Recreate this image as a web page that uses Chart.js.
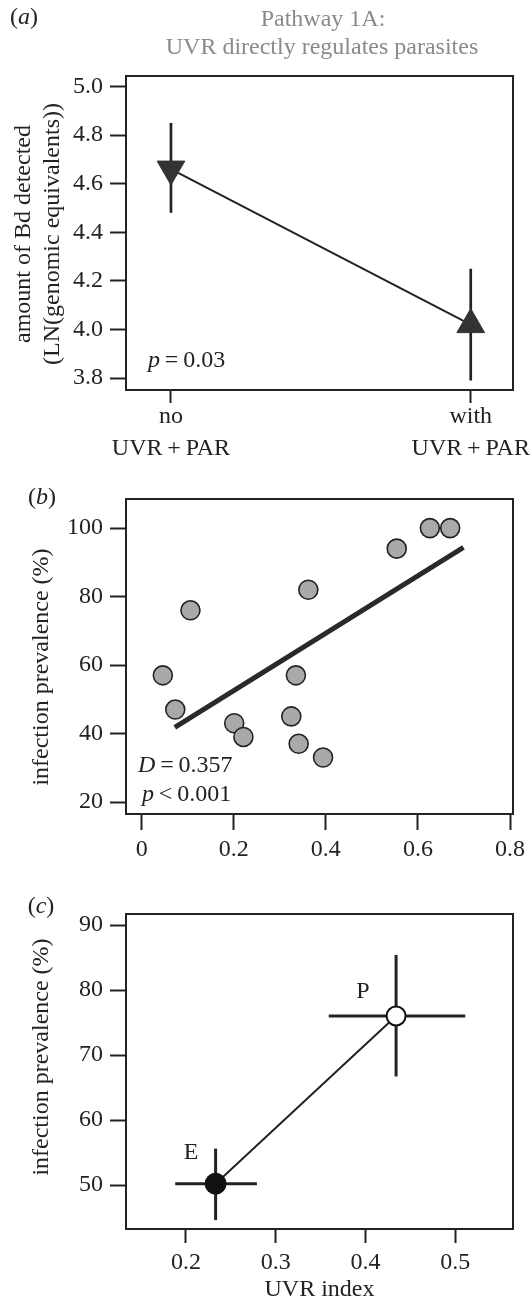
<!DOCTYPE html>
<html>
<head>
<meta charset="utf-8">
<script src="https://cdn.jsdelivr.net/npm/chart.js@4.4.1/dist/chart.umd.min.js"></script>
<style>
  html, body { margin: 0; padding: 0; background: #fff; }
  #wrap { position: relative; width: 532px; height: 1299px; overflow: hidden; }
  canvas { position: absolute; left: 0; }
</style>
</head>
<body>
<div id="wrap">
  <canvas id="panelA" width="532" height="460" style="top:0px"></canvas>
  <canvas id="panelB" width="532" height="420" style="top:460px"></canvas>
  <canvas id="panelC" width="532" height="430" style="top:880px"></canvas>
</div>
<script>
// (a) Bd load with / without UVR
const treatments = [['no', 'UVR\u2009+\u2009PAR'], ['with', 'UVR\u2009+\u2009PAR']];
const bdMean = [4.66, 4.02];
const bdLow = [4.48, 3.79];
const bdHigh = [4.85, 4.25];
const bdTicks = [3.8, 4.0, 4.2, 4.4, 4.6, 4.8, 5.0];

// (b) prevalence vs UVR index per site
const uvrSites = [0.046, 0.073, 0.106, 0.201, 0.221, 0.325, 0.335, 0.341, 0.362, 0.394, 0.554, 0.626, 0.670];
const prevSites = [57, 47, 76, 43, 39, 45, 57, 37, 82, 33, 94, 100, 100];
const fitX = [0.072, 0.699];
const fitY = [41.8, 94.4];
const uvrTicksB = [0, 0.2, 0.4, 0.6, 0.8];
const prevTicksB = [20, 40, 60, 80, 100];

// (c) group means E / P
const groups = ['E', 'P'];
const uvrGroup = [0.233, 0.434];
const uvrLow = [0.188, 0.359];
const uvrHigh = [0.279, 0.511];
const prevGroup = [50.2, 76.0];
const prevLow = [44.6, 66.7];
const prevHigh = [55.6, 85.4];
const uvrTicksC = [0.2, 0.3, 0.4, 0.5];
const prevTicksC = [50, 60, 70, 80, 90];

const SERIF = "'Liberation Serif', 'DejaVu Serif', serif";
const INK = '#222';
Chart.defaults.font.family = SERIF;
Chart.defaults.font.size = 24;
Chart.defaults.color = INK;

function axis(min, max, ticks, o) {
  return {
    type: 'linear', min: min, max: max,
    afterBuildTicks: s => { s.ticks = ticks.map(v => ({value: v})); },
    grid: { drawOnChartArea: false, drawTicks: true, tickLength: o.tickLength, tickWidth: 2, tickColor: INK },
    border: { display: false },
    ticks: {
      padding: o.padding, color: INK, autoSkip: false, maxRotation: 0,
      font: { size: 24, lineHeight: o.lineHeight || 1.2 },
      callback: o.callback || (v => v)
    },
    title: o.title || { display: false },
    afterFit: s => {
      if (o.width) s.width = o.width;
      if (o.height) s.height = o.height;
    }
  };
}

// box round the plot region
const frame = {
  id: 'frame',
  afterDatasetsDraw(chart) {
    const a = chart.chartArea, ctx = chart.ctx;
    ctx.save();
    ctx.strokeStyle = INK;
    ctx.lineWidth = 2;
    ctx.strokeRect(a.left, a.top, a.right - a.left, a.bottom - a.top);
    ctx.restore();
  }
};

const errorBars = {
  id: 'errorBars',
  beforeDatasetsDraw(chart, args, o) {
    if (!o.bars) return;
    const ctx = chart.ctx, x = chart.scales.x, y = chart.scales.y;
    ctx.save();
    ctx.strokeStyle = INK;
    ctx.lineWidth = o.width;
    o.bars.forEach(b => {
      ctx.beginPath();
      if (b.y0 !== undefined) {
        const px = x.getPixelForValue(b.x);
        ctx.moveTo(px, y.getPixelForValue(b.y0));
        ctx.lineTo(px, y.getPixelForValue(b.y1));
      }
      if (b.x0 !== undefined) {
        const py = y.getPixelForValue(b.y);
        ctx.moveTo(x.getPixelForValue(b.x0), py);
        ctx.lineTo(x.getPixelForValue(b.x1), py);
      }
      ctx.stroke();
    });
    ctx.restore();
  }
};

// labels with italic pieces
const panelText = {
  id: 'panelText',
  afterDraw(chart, args, o) {
    const ctx = chart.ctx;
    (o.items || []).forEach(it => {
      const font = p => (p.i ? 'italic ' : '') + '24px ' + SERIF;
      ctx.save();
      ctx.translate(it.x, it.y);
      if (it.rotate) ctx.rotate(-Math.PI / 2);
      ctx.fillStyle = it.color || INK;
      ctx.textBaseline = 'middle';
      ctx.textAlign = 'left';
      let w = 0;
      it.parts.forEach(p => { ctx.font = font(p); w += ctx.measureText(p.t).width; });
      let cx = it.left ? 0 : -w / 2;
      it.parts.forEach(p => {
        ctx.font = font(p);
        ctx.fillText(p.t, cx, 0);
        cx += ctx.measureText(p.t).width;
      });
      ctx.restore();
    });
  }
};

const base = {
  responsive: false, animation: false, events: [],
  plugins: { legend: { display: false }, tooltip: { enabled: false } }
};

// ---- (a)
new Chart(document.getElementById('panelA'), {
  type: 'scatter',
  data: {
    datasets: [{
      data: bdMean.map((v, i) => ({x: i, y: v})),
      showLine: true, borderColor: INK, borderWidth: 2,
      pointStyle: 'triangle', pointRotation: [180, 0], pointRadius: 16,
      pointBackgroundColor: '#333', pointBorderColor: '#333', pointBorderWidth: 1
    }]
  },
  options: Object.assign({}, base, {
    layout: { padding: { top: 76, right: 19, bottom: 0, left: 0 } },
    scales: {
      x: axis(-0.15, 1.141, [0, 1], { tickLength: 13, padding: -1.5, lineHeight: 1.3, height: 70,
        callback: (v, i) => treatments[i] }),
      y: axis(3.751, 5.043, bdTicks, { tickLength: 16, padding: 7, width: 126,
        callback: v => v.toFixed(1) })
    },
    plugins: Object.assign({}, base.plugins, {
      errorBars: { width: 2.7, bars: bdMean.map((v, i) => ({x: i, y0: bdLow[i], y1: bdHigh[i]})) },
      panelText: { items: [
        { x: 24, y: 18, parts: [{t: '('}, {t: 'a', i: true}, {t: ')'}] },
        { x: 323, y: 20, color: '#8a8a8a', parts: [{t: 'Pathway 1A:'}] },
        { x: 322, y: 48, color: '#8a8a8a', parts: [{t: 'UVR directly regulates parasites'}] },
        { x: 24, y: 234, rotate: true, parts: [{t: 'amount of Bd detected'}] },
        { x: 53, y: 234, rotate: true, parts: [{t: '(LN(genomic equivalents))'}] },
        { x: 148, y: 361, left: true, parts: [{t: 'p', i: true}, {t: '\u2009=\u20090.03'}] }
      ] }
    })
  }),
  plugins: [frame, errorBars, panelText]
});

// ---- (b)
new Chart(document.getElementById('panelB'), {
  type: 'scatter',
  data: {
    datasets: [{
      data: uvrSites.map((v, i) => ({x: v, y: prevSites[i]})),
      pointRadius: 9.5, pointBackgroundColor: '#a9a9a9', pointBorderColor: INK, pointBorderWidth: 1.6
    }, {
      data: fitX.map((v, i) => ({x: v, y: fitY[i]})),
      showLine: true, borderColor: '#2a2a2a', borderWidth: 5, pointRadius: 0, borderCapStyle: 'butt'
    }]
  },
  options: Object.assign({}, base, {
    layout: { padding: { top: 39, right: 19, bottom: 0, left: 0 } },
    scales: {
      x: axis(-0.034, 0.8065, uvrTicksB, { tickLength: 16, padding: 5, height: 66,
        callback: v => v === 0 ? '0' : v.toFixed(1) }),
      y: axis(16.5, 108.5, prevTicksB, { tickLength: 16, padding: 7, width: 126 })
    },
    plugins: Object.assign({}, base.plugins, {
      panelText: { items: [
        { x: 42, y: 38, parts: [{t: '('}, {t: 'b', i: true}, {t: ')'}] },
        { x: 42, y: 207, rotate: true, parts: [{t: 'infection prevalence (%)'}] },
        { x: 138, y: 306, left: true, parts: [{t: 'D', i: true}, {t: '\u2009=\u20090.357'}] },
        { x: 142, y: 335, left: true, parts: [{t: 'p', i: true}, {t: '\u2009<\u20090.001'}] }
      ] }
    })
  }),
  plugins: [frame, panelText]
});

// ---- (c)
new Chart(document.getElementById('panelC'), {
  type: 'scatter',
  data: {
    datasets: [{
      data: uvrGroup.map((v, i) => ({x: v, y: prevGroup[i]})),
      showLine: true, borderColor: INK, borderWidth: 2,
      pointRadius: [10.5, 9.5], pointBackgroundColor: ['#111', '#fff'],
      pointBorderColor: '#111', pointBorderWidth: [1, 2]
    }]
  },
  options: Object.assign({}, base, {
    layout: { padding: { top: 34, right: 19, bottom: 0, left: 0 } },
    scales: {
      x: axis(0.1332, 0.5642, uvrTicksC, { tickLength: 14, padding: 5, height: 81,
        callback: v => v.toFixed(1),
        title: { display: true, text: 'UVR index', color: INK, font: { size: 24, lineHeight: 1.2 }, padding: { top: 0, bottom: 5.6 } } }),
      y: axis(43.23, 91.7, prevTicksC, { tickLength: 16, padding: 7, width: 126 })
    },
    plugins: Object.assign({}, base.plugins, {
      errorBars: { width: 3, bars: groups.flatMap((g, i) => [
        {x: uvrGroup[i], y0: prevLow[i], y1: prevHigh[i]},
        {y: prevGroup[i], x0: uvrLow[i], x1: uvrHigh[i]}
      ]) },
      panelText: { items: [
        { x: 41, y: 27, parts: [{t: '('}, {t: 'c', i: true}, {t: ')'}] },
        { x: 42, y: 177, rotate: true, parts: [{t: 'infection prevalence (%)'}] },
        { x: 191, y: 273, parts: [{t: groups[0]}] },
        { x: 363, y: 112, parts: [{t: groups[1]}] }
      ] }
    })
  }),
  plugins: [frame, errorBars, panelText]
});
</script>
</body>
</html>
